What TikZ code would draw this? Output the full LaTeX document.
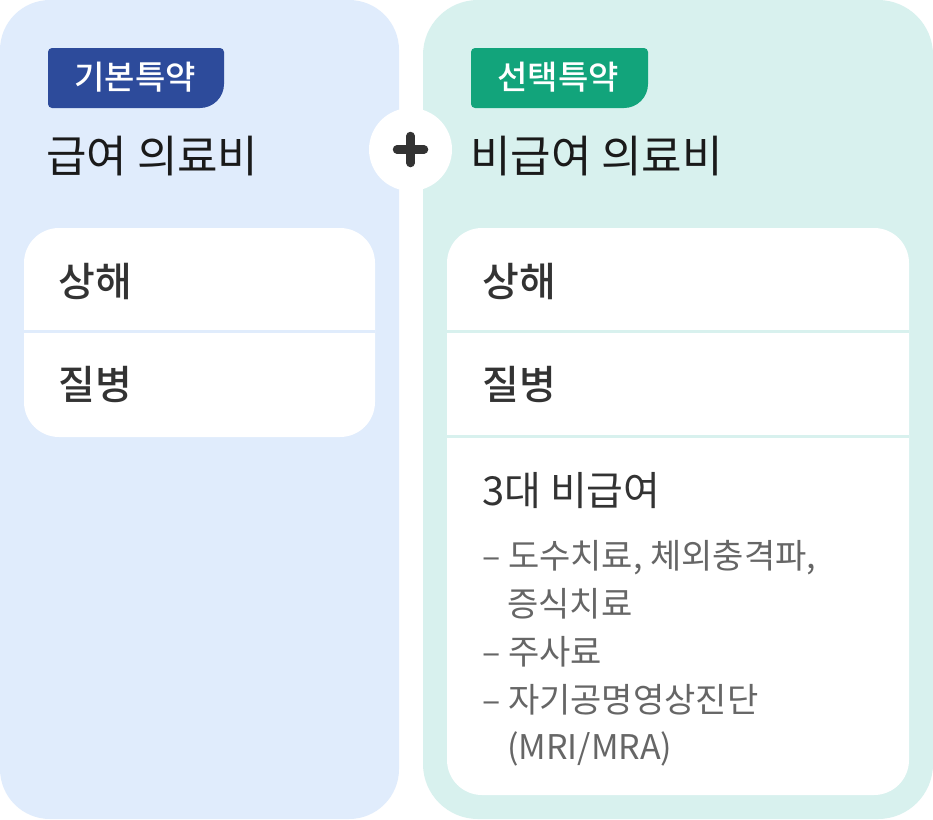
\documentclass[tikz,border=0pt]{standalone}
\usepackage{fontspec}
\setmainfont{Noto Sans CJK KR}
\IfFontExistsTF{Noto Sans CJK KR Medium}
  {\newfontfamily\medfont{Noto Sans CJK KR Medium}}
  {\newcommand\medfont{\normalfont}}
\definecolor{leftbg}{HTML}{E0ECFC}
\definecolor{rightbg}{HTML}{D8F1EE}
\definecolor{badgeblue}{HTML}{2D4B9B}
\definecolor{badgegreen}{HTML}{12A47B}
\definecolor{titlecol}{HTML}{1A1A1A}
\definecolor{itemcol}{HTML}{333333}
\definecolor{listcol}{HTML}{666666}
\definecolor{pluscol}{HTML}{333333}
\tikzset{
  badgetext/.style={text=white, font=\medfont\fontsize{33}{35}\selectfont, inner sep=0pt},
  titletext/.style={anchor=base west, text=titlecol, font=\fontsize{44}{46}\selectfont, inner sep=0pt},
  itemtext/.style={anchor=base west, text=itemcol, font=\medfont\fontsize{40}{42}\selectfont, inner sep=0pt},
  subhead/.style={anchor=base west, text=itemcol, font=\fontsize{40}{42}\selectfont, inner sep=0pt},
  listtext/.style={anchor=base west, text=listcol, font=\fontsize{34}{36}\selectfont, inner sep=0pt},
  divider/.style={line width=3pt},
}
\begin{document}
\begin{tikzpicture}[x=1pt,y=-1pt]
\useasboundingbox (0,0) rectangle (933,819);
\fill[white] (0,0) rectangle (933,819);
% panels
\fill[leftbg, rounded corners=50pt] (0,0) rectangle (399,819);
\fill[rightbg, rounded corners=55pt] (423,0) rectangle (933,819);
% badges
\fill[badgeblue] (52,48) -- (220,48) arc[start angle=-90,end angle=0,radius=4] -- (224,84) arc[start angle=0,end angle=90,radius=24] -- (52,108) arc[start angle=90,end angle=180,radius=4] -- (48,52) arc[start angle=180,end angle=270,radius=4] -- cycle;
\node[badgetext] (b1) at (135,77) {기본특약};
\fill[badgegreen] (475,48) -- (644,48) arc[start angle=-90,end angle=0,radius=4] -- (648,84) arc[start angle=0,end angle=90,radius=24] -- (475,108) arc[start angle=90,end angle=180,radius=4] -- (471,52) arc[start angle=180,end angle=270,radius=4] -- cycle;
\node[badgetext] (b2) at (558,77) {선택특약};
% titles
\node[titletext] (t1) at (46,172) {급여 의료비};
\node[titletext] (t2) at (470,172) {비급여 의료비};
% plus
\fill[white] (410.5,149.5) circle[radius=41.5];
\coordinate (pc) at (410.5,149.5);
\draw[pluscol, line width=8.5pt, line cap=round] (397,149.5) -- (424,149.5);
\draw[pluscol, line width=8.5pt, line cap=round] (410.5,136) -- (410.5,163);
% left card
\fill[white, rounded corners=35pt] (24,228) rectangle (375,437);
\draw[leftbg, divider] (24,331) -- (375,331);
\node[itemtext] (l1) at (58,296) {상해};
\node[itemtext] (l2) at (58,399) {질병};
% right card
\fill[white, rounded corners=35pt] (447,228) rectangle (909,795);
\draw[rightbg, divider] (447,331.5) -- (909,331.5);
\draw[rightbg, divider] (447,436.5) -- (909,436.5);
\node[itemtext] (r1) at (482,296) {상해};
\node[itemtext] (r2) at (482,399) {질병};
\node[subhead] (r3) at (482,505) {3대 비급여};
\node[listtext] (s1) at (482,568) {– 도수치료, 체외충격파,};
\node[listtext] (s1b) at (507,616) {증식치료};
\node[listtext] (s2) at (482,664) {– 주사료};
\node[listtext] (s3) at (482,712) {– 자기공명영상진단};
\node[listtext] (s3b) at (507,759) {(MRI/MRA)};
\end{tikzpicture}
\end{document}
